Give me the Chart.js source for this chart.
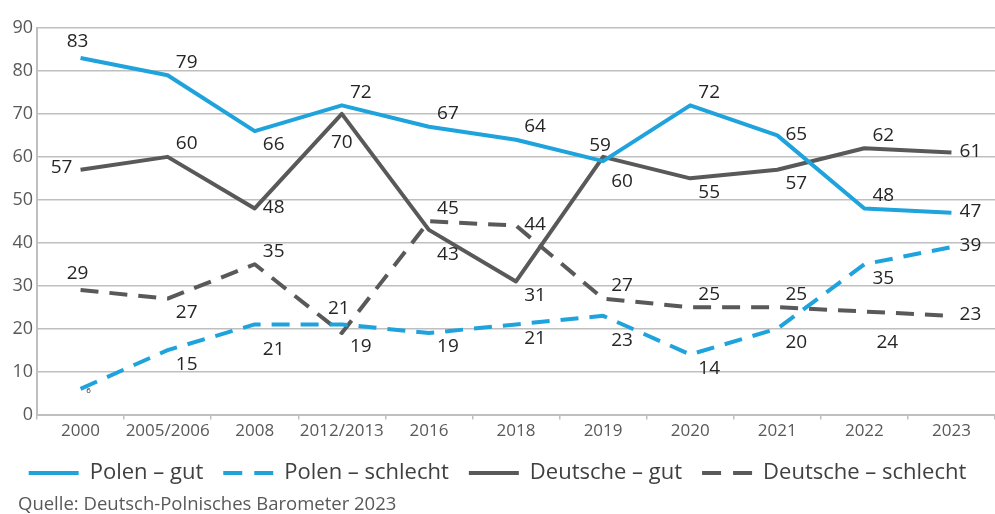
<!DOCTYPE html>
<html>
<head>
<meta charset="utf-8">
<script src="https://cdn.jsdelivr.net/npm/chart.js@4.4.1/dist/chart.umd.min.js"></script>
<style>
    html, body { margin: 0; padding: 0; background: #fff; }
    #wrap { position: relative; width: 995px; height: 514px; }
    #source {
        position: absolute; left: 18px; top: 493px;
        font: 18.5px "Open Sans", "Noto Sans", sans-serif; line-height: 20px;
        color: #595959; white-space: nowrap;
    }
</style>
</head>
<body>
<div id="wrap">
    <canvas id="lineChart"></canvas>
    <div id="source">Quelle: Deutsch-Polnisches Barometer 2023</div>
</div>
<script>
// x-axis categories (survey years)
const years = ['2000', '2005/2006', '2008', '2012/2013', '2016', '2018', '2019', '2020', '2021', '2022', '2023'];

// series values in percent
const polenGut = [83, 79, 66, 72, 67, 64, 59, 72, 65, 48, 47];
const polenSchlecht = [6, 15, 21, 21, 19, 21, 23, 14, 20, 35, 39];
const deutscheGut = [57, 60, 48, 70, 43, 31, 60, 55, 57, 62, 61];
const deutscheSchlecht = [29, 27, 35, 19, 45, 44, 27, 25, 25, 24, 23];

// y-axis tick values
const yTicks = [0, 10, 20, 30, 40, 50, 60, 70, 80, 90];

// where each value label sits relative to its point
const polenGutPos = ['n', 'ne', 'se', 'ne', 'ne', 'ne', 'n', 'ne', 'e', 'ne', 'e'];
const polenSchlechtPos = ['tiny', 'se', 'se2', 'n', 'se', 'se', 'se2', 'se', 'se', 'se', 'e'];
const deutscheGutPos = ['w', 'ne', 'e', 's', 'se2', 'se', 'se2', 'se', 'se', 'ne', 'e'];
const deutscheSchlechtPos = ['n', 'se', 'ne', 'se', 'ne', 'e', 'ne', 'ne', 'ne', 'se3', 'e'];

const blue = '#1fa3dc';
const grey = '#595959';
const font = '"Open Sans", "Noto Sans", sans-serif';

// label offsets in px (dx, dy) for each placement name
const offsets = {
    n: [-3, -16], ne: [19, -13], e: [19, -1], se: [19, 14], se2: [19, 25],
    se3: [23, 31], s: [0, 29], w: [-19, -2], tiny: [8, 2]
};

const valueLabels = {
    id: 'valueLabels',
    afterDatasetsDraw(chart) {
        const ctx = chart.ctx;
        chart.data.datasets.forEach((ds, i) => {
            const meta = chart.getDatasetMeta(i);
            meta.data.forEach((pt, j) => {
                const pos = ds.labelPos[j];
                const off = offsets[pos];
                ctx.save();
                ctx.font = (pos === 'tiny' ? '8px ' : '19px ') + font;
                ctx.fillStyle = '#262626';
                ctx.textAlign = 'center';
                ctx.textBaseline = 'middle';
                ctx.fillText(ds.data[j], pt.x + off[0], pt.y + off[1]);
                ctx.restore();
            });
        });
    }
};

function line(label, data, color, dashed, labelPos) {
    return {
        label: label,
        data: data,
        labelPos: labelPos,
        borderColor: color,
        backgroundColor: color,
        borderWidth: 4,
        borderDash: dashed ? [18, 11] : [],
        borderJoinStyle: 'round',
        tension: 0,
        fill: false,
        pointRadius: 0,
        pointHoverRadius: 0,
        pointStyle: 'line'
    };
}

new Chart(document.getElementById('lineChart'), {
    type: 'line',
    data: {
        labels: years,
        datasets: [
            line('Polen – gut', polenGut, blue, false, polenGutPos),
            line('Polen – schlecht', polenSchlecht, blue, true, polenSchlechtPos),
            line('Deutsche – gut', deutscheGut, grey, false, deutscheGutPos),
            line('Deutsche – schlecht', deutscheSchlecht, grey, true, deutscheSchlechtPos)
        ]
    },
    options: {
        responsive: true,
        maintainAspectRatio: false,
        animation: false,
        layout: { padding: { top: 28, right: 0, left: 0, bottom: 20 } },
        scales: {
            x: {
                offset: true,
                grid: {
                    offset: true,
                    drawOnChartArea: false,
                    tickLength: 5,
                    color: '#bfbfbf',
                    lineWidth: 1.5
                },
                border: { color: '#bfbfbf', width: 2 },
                ticks: {
                    color: grey,
                    padding: 1,
                    maxRotation: 0,
                    autoSkip: false,
                    font: { family: font, size: 17 }
                }
            },
            y: {
                min: 0,
                max: 90,
                afterFit: scale => { scale.width = 37; },
                afterBuildTicks: scale => { scale.ticks = yTicks.map(v => ({ value: v })); },
                grid: { color: '#bfbfbf', lineWidth: 1.5, drawTicks: false },
                border: { color: '#bfbfbf', width: 2 },
                ticks: {
                    color: grey,
                    padding: 4,
                    font: { family: font, size: 18 }
                }
            }
        },
        plugins: {
            legend: {
                position: 'bottom',
                labels: {
                    usePointStyle: true,
                    pointStyleWidth: 50,
                    boxHeight: 8,
                    padding: 20,
                    color: '#404040',
                    font: { family: font, size: 22 },
                    generateLabels(chart) {
                        const items = Chart.defaults.plugins.legend.labels.generateLabels(chart);
                        items.forEach(item => {
                            const ds = chart.data.datasets[item.datasetIndex];
                            item.lineDash = ds.borderDash.length ? [19, 12] : [];
                            item.lineWidth = 4;
                        });
                        return items;
                    }
                }
            },
            tooltip: { enabled: false }
        }
    },
    plugins: [valueLabels]
});
</script>
</body>
</html>
